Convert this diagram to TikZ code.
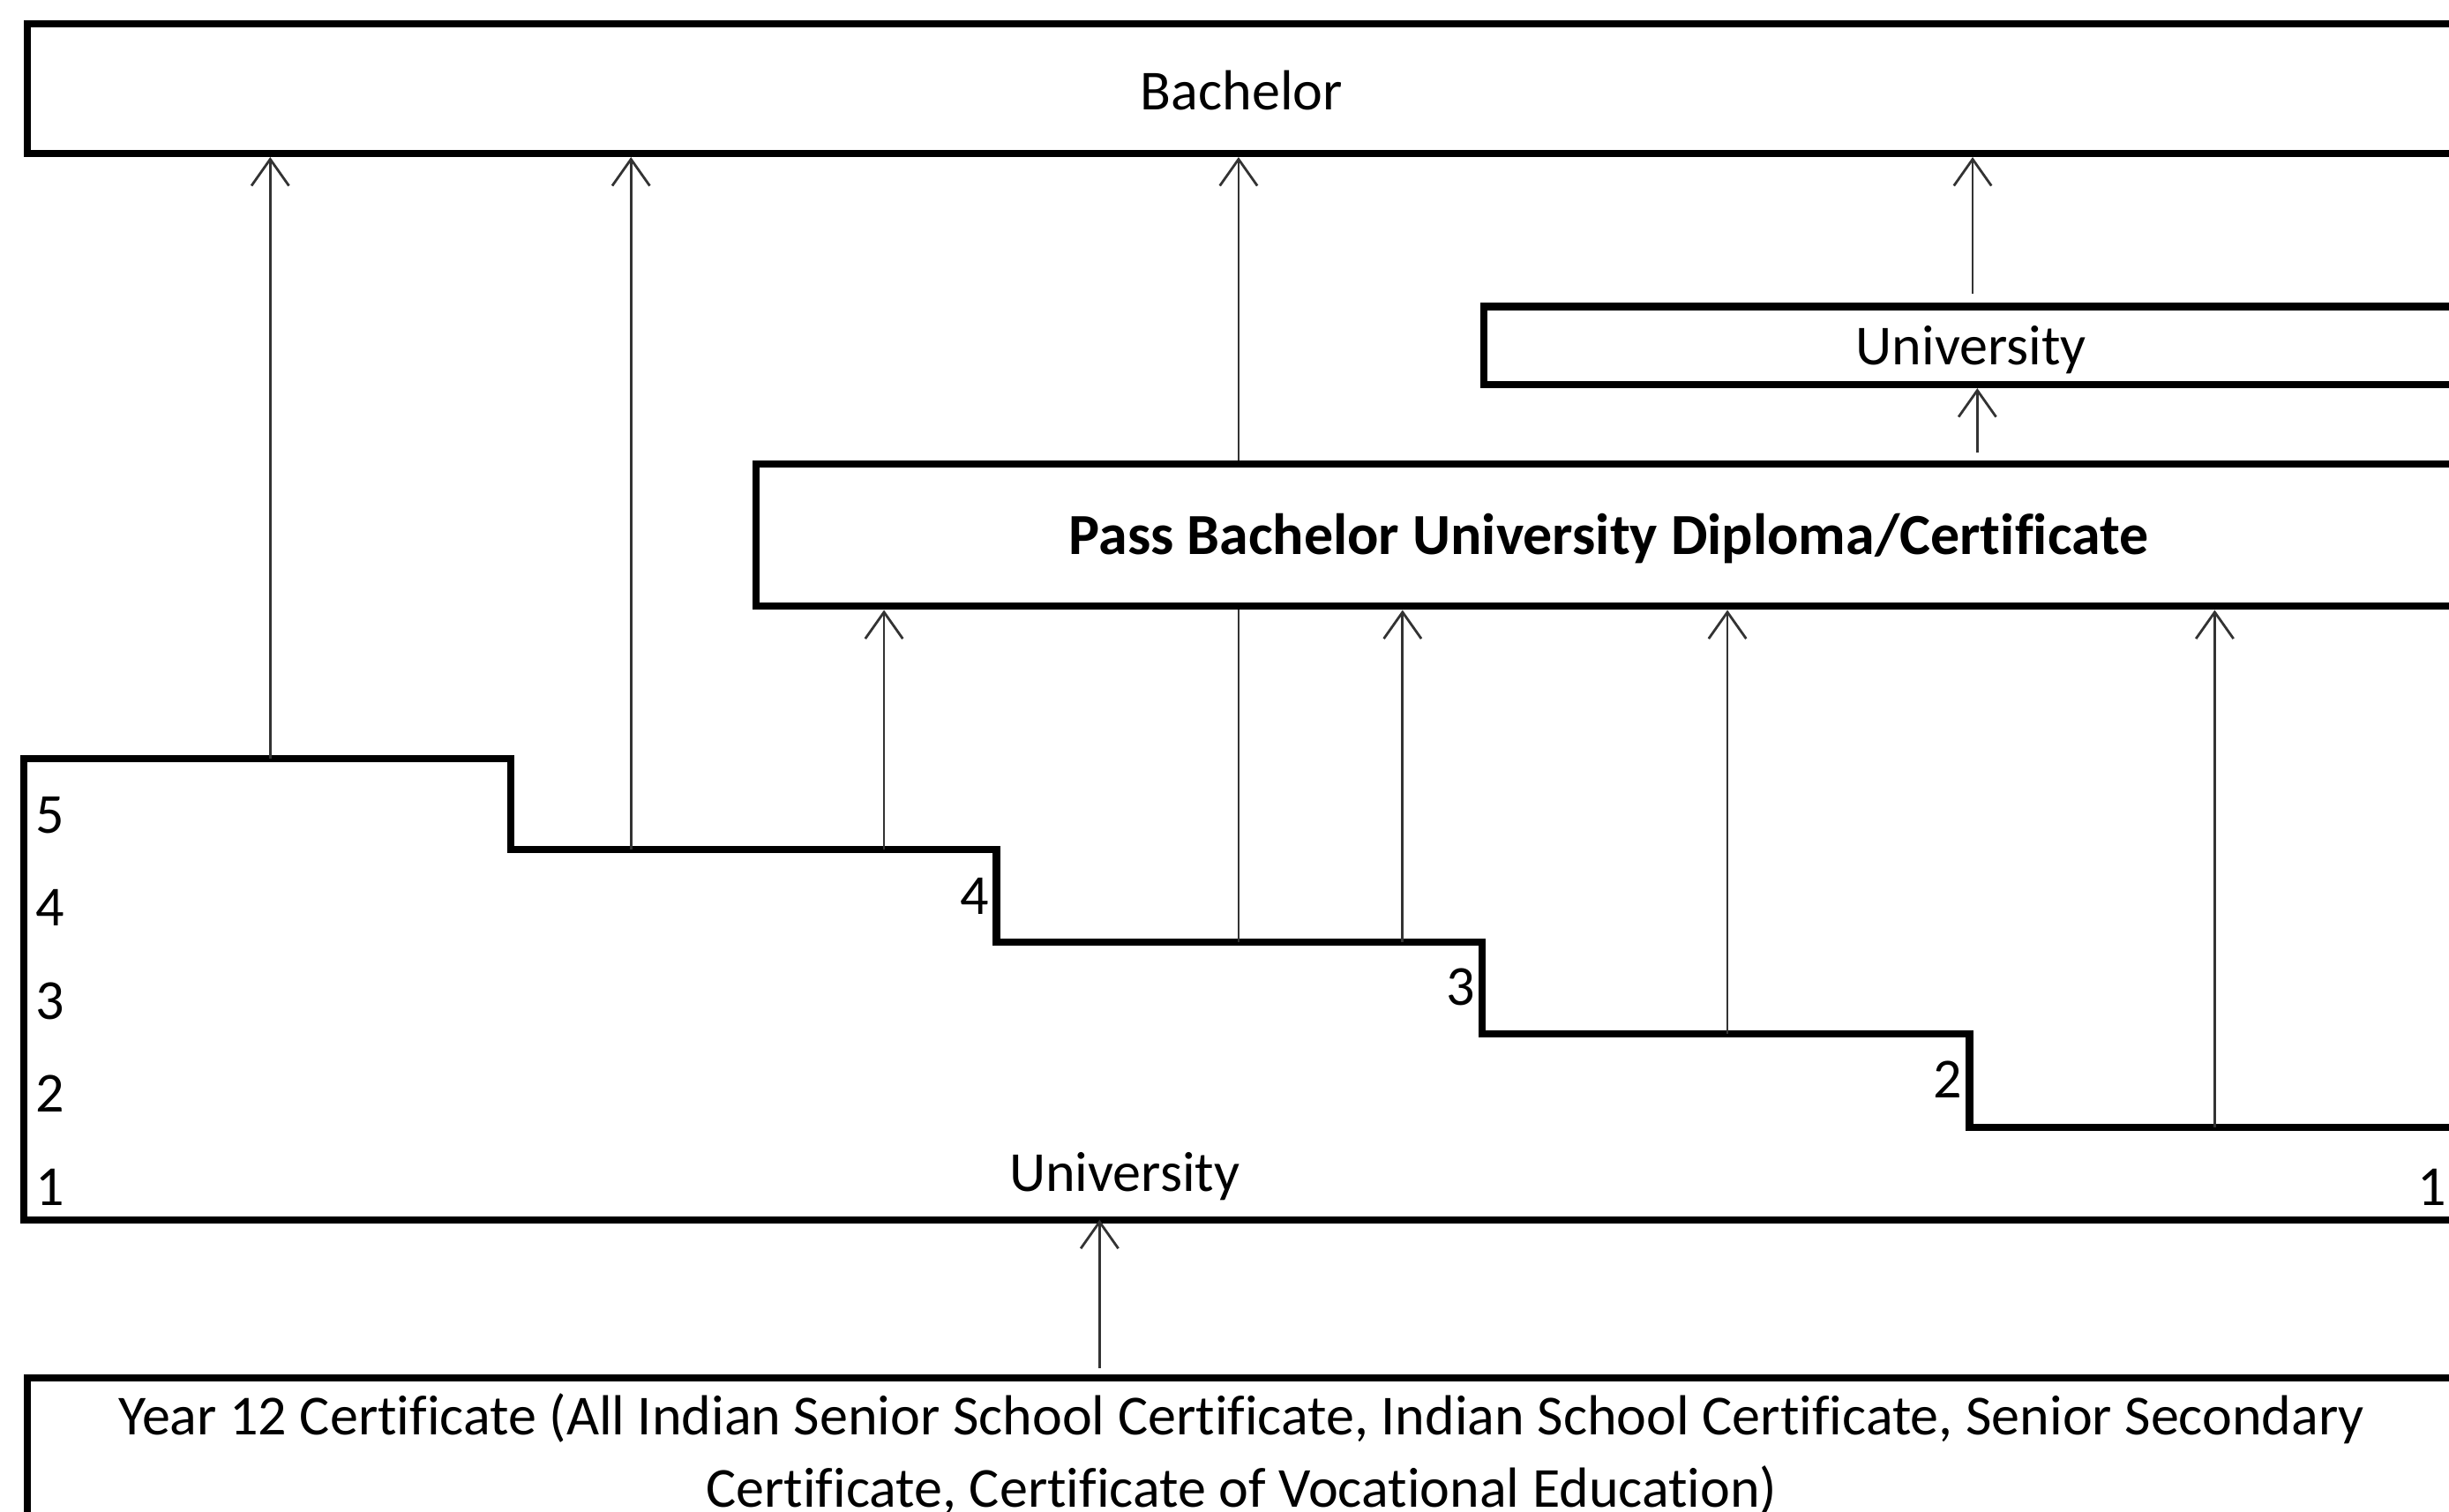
\documentclass[tikz,border=0pt]{standalone}
\usepackage{fontspec}
\setmainfont[Ligatures=NoCommon]{Carlito}
\usetikzlibrary{arrows.meta}
\begin{document}
\begin{tikzpicture}[x=0.1mm,y=-0.1mm,
  box/.style={draw=black,line width=1.3pt,rectangle,inner sep=0pt,anchor=north west},
  lbl/.style={font=\fontsize{10.3pt}{13.1pt}\selectfont,inner sep=0pt,align=center},
  conn/.style={draw=black!80,line width=0.45pt,-{Straight Barb[length=1.7mm,width=2.4mm,line width=0.45pt]}},
  plainline/.style={draw=black!80,line width=0.45pt}]
\useasboundingbox (0,0) rectangle (1568,968);
\begin{scope}
\clip (0,0) rectangle (1568,968);
% boxes
\node[box,minimum width=160.5mm,minimum height=8.3mm] (bach) at (15,13) {};
\node[box,minimum width=67.2mm,minimum height=5.0mm] (uni2) at (948,194) {};
\node[box,minimum width=113.8mm,minimum height=9.1mm] (pass) at (482,295) {};
\node[box,minimum width=160.5mm,minimum height=15mm] (y12) at (15,880) {};
% stair box
\draw[line width=1.3pt,line join=miter] (1620,722) -- (1261,722) -- (1261,662) -- (949,662) -- (949,603)
  -- (638,603) -- (638,544) -- (327,544) -- (327,486) -- (15,486) -- (15,781) -- (1620,781);
% texts
\node[lbl] (tbach) at (795,58) {Bachelor};
\node[lbl] (tuni2) at (1262,224) {University};
\node[lbl,font=\fontsize{10.6pt}{13pt}\selectfont\bfseries] (tpass) at (1030,345) {Pass Bachelor University Diploma/Certificate};
\node[lbl] (tuni1) at (720,753) {University};
\node[lbl] (ty12) at (795,931) {Year 12 Certificate (All Indian Senior School Certificate, Indian School Certificate, Senior Secondary\\Certificate, Certificate of Vocational Education)};
\node[lbl] (l5) at (32,522) {5};
\node[lbl] (l4) at (32,581) {4};
\node[lbl] (l3) at (32,641) {3};
\node[lbl] (l2) at (32,700) {2};
\node[lbl] (l1) at (32,760) {1};
\node[lbl] (r4) at (624,574) {4};
\node[lbl] (r3) at (935,632) {3};
\node[lbl] (r2) at (1247,691) {2};
\node[lbl] (r1) at (1557,760) {1};
% step coordinates
\coordinate (a1) at (173,486);
\coordinate (a2) at (404,544);
\coordinate (a3) at (566,544);
\coordinate (a4) at (793,603);
\coordinate (a5) at (898,603);
\coordinate (a6) at (1106,662);
\coordinate (a7) at (1418,722);
\coordinate (a8) at (704,781);
% connectors
\draw[conn] (a1) -- (a1 |- bach.south);
\draw[conn] (a2) -- (a2 |- bach.south);
\draw[conn] (a3) -- (a3 |- pass.south);
\draw[plainline] (a4) -- (a4 |- pass.south);
\draw[conn] (a4 |- pass.north) -- (a4 |- bach.south);
\draw[conn] (a5) -- (a5 |- pass.south);
\draw[conn] (a6) -- (a6 |- pass.south);
\draw[conn] (a7) -- (a7 |- pass.south);
\draw[conn,shorten <=0.6mm] (1263,0 |- uni2.north) -- (1263,0 |- bach.south);
\draw[conn,shorten <=0.5mm] (1266,0 |- pass.north) -- (1266,0 |- uni2.south);
\draw[conn,shorten <=0.4mm] (a8 |- y12.north) -- (a8);
\end{scope}
\end{tikzpicture}
\end{document}
